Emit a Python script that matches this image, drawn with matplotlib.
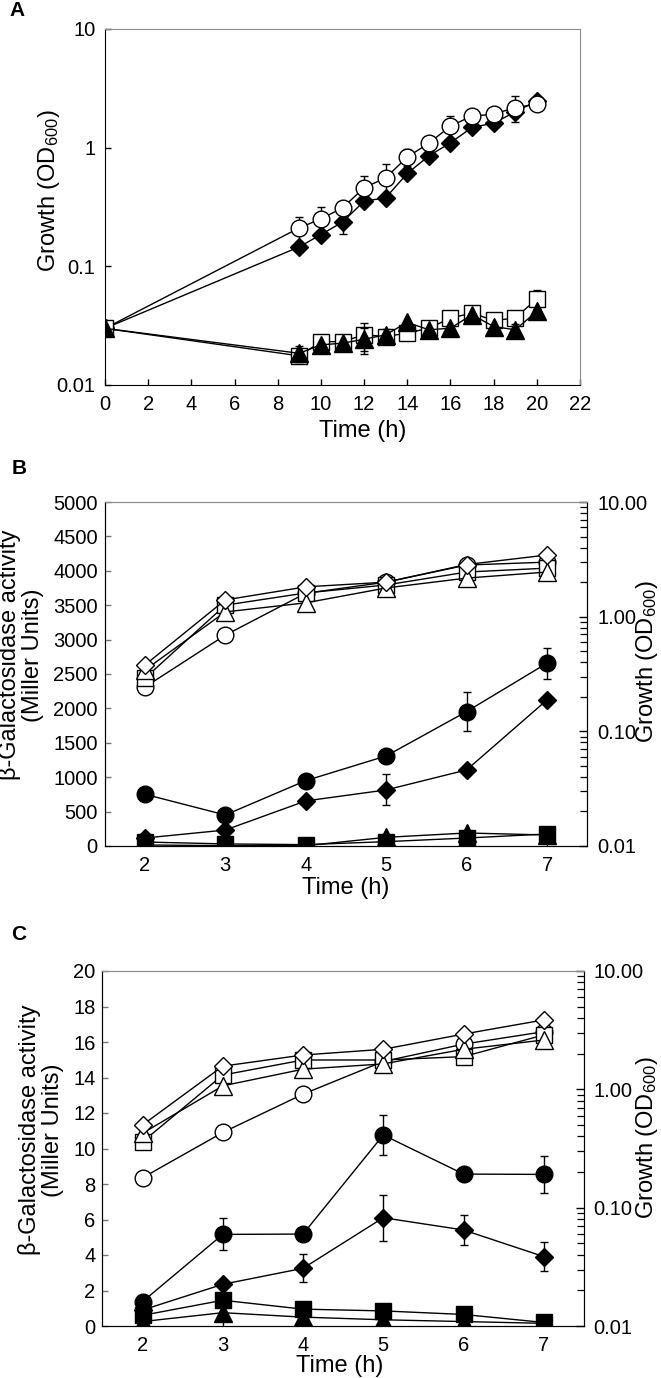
import matplotlib
matplotlib.use('Agg')
import matplotlib.pyplot as plt
from matplotlib.ticker import FixedLocator, FixedFormatter, LogLocator, NullFormatter, NullLocator

plt.rcParams['font.family'] = ['Liberation Sans', 'DejaVu Sans']
plt.rcParams['mathtext.default'] = 'regular'

# ---------------- Panel A data (OD600, log) ----------------
timeA = [0, 9, 10, 11, 12, 13, 14, 15, 16, 17, 18, 19, 20]
circA = [0.030, 0.211, 0.251, 0.311, 0.459, 0.557, 0.834, 1.09, 1.52, 1.85, 1.91, 2.18, 2.32]
circA_err = [0, 0.05, 0.066, 0.03, 0.118, 0.166, 0.134, 0, 0.33, 0, 0, 0.55, 0]
diamA = [0.030, 0.146, 0.185, 0.236, 0.354, 0.378, 0.607, 0.851, 1.10, 1.48, 1.61, 2.0, 2.48]
diamA_err = [0, 0, 0, 0.05, 0, 0, 0, 0, 0, 0, 0, 0, 0]
sqA = [0.030, 0.0176, 0.0232, 0.0232, 0.0265, 0.0256, 0.0274, 0.0301, 0.0366, 0.0404, 0.0350, 0.0366, 0.0533]
sqA_err = [0, 0, 0, 0, 0.007, 0, 0, 0, 0, 0, 0, 0, 0.01]
triA = [0.030, 0.0185, 0.0218, 0.0225, 0.0243, 0.0265, 0.0337, 0.0292, 0.0301, 0.0391, 0.0311, 0.0292, 0.0417]
triA_err = [0, 0.003, 0, 0, 0.006, 0.003, 0, 0, 0, 0, 0, 0.0036, 0]

xticksA = [0, 2, 4, 6, 8, 10, 12, 14, 16, 18, 20, 22]
yticksA = [0.01, 0.1, 1, 10]
yticklabelsA = ['0.01', '0.1', '1', '10']

# ---------------- Panel B data ----------------
timeBC = [2, 3, 4, 5, 6, 7]
# growth, open symbols (right axis)
diamB_od = [0.378, 1.40, 1.82, 2.00, 2.85, 3.45]
circB_od = [0.243, 0.69, 1.60, 2.00, 2.82, 2.99]
sqB_od = [0.29, 1.26, 1.61, 1.89, 2.45, 2.65]
triB_od = [0.342, 1.10, 1.32, 1.78, 2.17, 2.45]
# beta-gal, filled symbols (left axis)
circB = [752, 451, 950, 1309, 1954, 2658]
circB_err = [0, 0, 0, 0, 280, 225]
diamB = [116, 232, 655, 815, 1106, 2124]
diamB_err = [0, 0, 0, 225, 0, 0]
sqB = [58, 30, 20, 63, 116, 175]
triB = [15, 5, 5, 126, 189, 160]

yticksB = list(range(0, 5001, 500))

# ---------------- Panel C data ----------------
diamC_od = [0.50, 1.57, 1.95, 2.18, 2.93, 3.86]
sqC_od = [0.36, 1.32, 1.77, 1.77, 1.89, 2.88]
triC_od = [0.425, 1.07, 1.48, 1.64, 2.18, 2.61]
circC_od = [0.179, 0.432, 0.91, 1.72, 2.41, 3.07]
circC = [1.37, 5.16, 5.18, 10.76, 8.56, 8.54]
circC_err = [0, 0.9, 0, 1.1, 0, 1.05]
diamC = [0.90, 2.35, 3.25, 6.10, 5.41, 3.91]
diamC_err = [0, 0, 0.78, 1.3, 0.85, 0.83]
sqC = [0.6, 1.45, 0.95, 0.85, 0.65, 0.2]
triC = [0.25, 0.75, 0.5, 0.35, 0.25, 0.15]

yticksC = list(range(0, 21, 2))
od_ticks = [0.01, 0.1, 1, 10]
od_labels = ['0.01', '0.10', '1.00', '10.00']

W, H = 661, 1378
fig = plt.figure(figsize=(W / 100, H / 100), dpi=100)

TICK_FS = 14.5
LAB_FS = 17
GREY = '#8c8c8c'


def px_axes(l, t, r, b):
    return fig.add_axes([l / W, 1 - b / H, (r - l) / W, (b - t) / H])


def ftext(x, y, s, **kw):
    fig.text(x / W, 1 - y / H, s, **kw)


def series(ax, x, y, err, marker, filled, ms, z):
    if err is not None:
        ax.errorbar(x, y, yerr=err, fmt='none', ecolor='black', elinewidth=1.0,
                    capsize=2.6, capthick=1.0, zorder=z - 0.5)
    ax.plot(x, y, '-', color='black', lw=1.0, marker=marker, ms=ms,
            mfc='black' if filled else 'white', mec='black', mew=1.0, zorder=z)


MS_O, MS_D, MS_S, MS_T = 12.0, 9.5, 11.5, 12.5

# ================= Panel A =================
axA = px_axes(105, 29, 580, 385)
axA.set_yscale('log')
series(axA, timeA, diamA, diamA_err, 'D', True, MS_D, 3)
series(axA, timeA, circA, circA_err, 'o', False, MS_O, 4)
series(axA, timeA, sqA, sqA_err, 's', False, MS_S, 5)
series(axA, timeA, triA, triA_err, '^', True, MS_T, 6)
axA.set_xlim(0, 22)
axA.set_ylim(0.01, 10)
axA.xaxis.set_major_locator(FixedLocator(xticksA))
axA.yaxis.set_major_locator(FixedLocator(yticksA))
axA.yaxis.set_major_formatter(FixedFormatter(yticklabelsA))
axA.yaxis.set_minor_locator(NullLocator())
axA.tick_params(axis='both', direction='in', length=4, width=1, labelsize=TICK_FS, colors='black')
axA.tick_params(axis='x', pad=7, top=False)
axA.tick_params(axis='y', pad=7, right=False)
for s in ['top', 'right']:
    axA.spines[s].set_color(GREY)
for s in ['left', 'bottom']:
    axA.spines[s].set_color('black')
ftext(49, 191, 'Growth (OD$_{600}$)', rotation=90, ha='center', va='center', fontsize=LAB_FS)
ftext(363, 431, 'Time (h)', ha='center', va='center', fontsize=LAB_FS)
ftext(17, 11, 'A', ha='center', va='center', fontsize=15, fontweight='bold')


def panel_bc(top, bottom, left, right, ymax, yticks, filled, opened, ylab_x, ylab_y,
             rlab_y, tlab_x, tlab_y, letter, let_y):
    ax = px_axes(left, top, right, bottom)
    ax2 = ax.twinx()
    ax2.set_yscale('log')
    # filled: beta-gal on left axis
    (cy, ce), (dy, de), sq, tr = filled
    series(ax, timeBC, dy, de, 'D', True, MS_D, 3)
    series(ax, timeBC, cy, ce, 'o', True, MS_O, 4)
    series(ax, timeBC, sq, None, 's', True, MS_S, 5)
    series(ax, timeBC, tr, None, '^', True, MS_T, 6)
    # open: growth on right axis
    od_c, od_s, od_t, od_d = opened
    series(ax2, timeBC, od_c, None, 'o', False, MS_O, 3)
    series(ax2, timeBC, od_s, None, 's', False, MS_S, 4)
    series(ax2, timeBC, od_t, None, '^', False, MS_T, 5)
    series(ax2, timeBC, od_d, None, 'D', False, MS_D, 6)
    ax.set_xlim(1.5, 7.5)
    ax.set_ylim(0, ymax)
    ax.xaxis.set_major_locator(FixedLocator(timeBC))
    ax.yaxis.set_major_locator(FixedLocator(yticks))
    ax2.set_ylim(0.01, 10)
    ax2.yaxis.set_major_locator(FixedLocator(od_ticks))
    ax2.yaxis.set_major_formatter(FixedFormatter(od_labels))
    ax2.yaxis.set_minor_locator(LogLocator(base=10, subs=range(2, 10)))
    ax2.yaxis.set_minor_formatter(NullFormatter())
    ax.tick_params(axis='x', direction='in', length=4, width=1, labelsize=TICK_FS, pad=7, top=False)
    ax.tick_params(axis='y', direction='in', length=4, width=1, labelsize=TICK_FS, pad=5,
                   color='#777777', labelcolor='black')
    ax2.tick_params(axis='y', which='major', direction='in', length=6, width=1, labelsize=TICK_FS, pad=7)
    ax2.tick_params(axis='y', which='minor', direction='in', length=5, width=0.9)
    for a in (ax, ax2):
        a.spines['top'].set_color(GREY)
        a.spines['left'].set_color('black')
        a.spines['bottom'].set_color('black')
        a.spines['right'].set_color('black')
    ftext(ylab_x, ylab_y, 'β-Galactosidase activity\n(Miller Units)', rotation=90,
          ha='center', va='center', fontsize=LAB_FS, linespacing=1.05, multialignment='center')
    ftext(647, rlab_y, 'Growth (OD$_{600}$)', rotation=90, ha='center', va='center', fontsize=LAB_FS)
    ftext(tlab_x, tlab_y, 'Time (h)', ha='center', va='center', fontsize=LAB_FS)
    ftext(19, let_y, letter, ha='center', va='center', fontsize=15, fontweight='bold')
    return ax, ax2


panel_bc(502, 846, 104.6, 587.3, 5000, yticksB,
         ((circB, circB_err), (diamB, diamB_err), sqB, triB),
         (circB_od, sqB_od, triB_od, diamB_od),
         21, 655, 662, 346, 888, 'B', 469)

panel_bc(971, 1326, 102.4, 583.9, 20, yticksC,
         ((circC, circC_err), (diamC, diamC_err), sqC, triC),
         (circC_od, sqC_od, triC_od, diamC_od),
         41, 1130, 1138, 340, 1366, 'C', 935)

fig.savefig('out.png', dpi=100)
